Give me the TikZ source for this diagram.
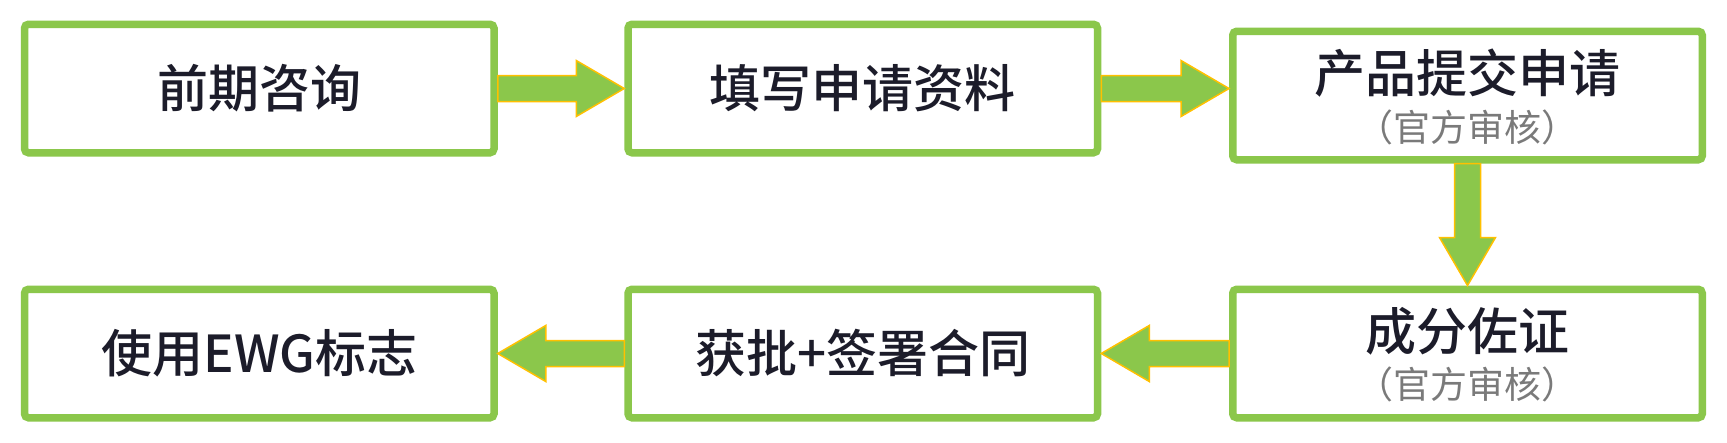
\documentclass[tikz,border=0pt]{standalone}
\usepackage{fontspec}
\newfontfamily\cjk{Noto Sans CJK SC Medium}
\newfontfamily\cjkr{Noto Sans CJK SC}
\usetikzlibrary{calc}
\definecolor{boxgreen}{HTML}{8BC74B}
\definecolor{arrowedge}{HTML}{FFC000}
\definecolor{maintxt}{HTML}{1C1C2A}
\definecolor{subtxt}{HTML}{7A7A7A}
\tikzset{
  stepbox/.style={draw=boxgreen, line width=7.5pt, rounded corners=4pt, fill=white,
    minimum width=469.5pt, minimum height=128.5pt, inner sep=0pt,
    font=\cjk\fontsize{51}{51}\selectfont, text=maintxt},
  maintext/.style={inner sep=0pt, font=\cjk\fontsize{51}{51}\selectfont, text=maintxt},
  subtext/.style={inner sep=0pt, font=\cjkr\fontsize{37}{37}\selectfont, text=subtxt},
  fatarrow/.style={fill=boxgreen, draw=arrowedge, line width=1.5pt, line join=miter}
}
\newcommand{\fatarr}[2]{%
  \coordinate (fa-s) at (#1);
  \coordinate (fa-e) at (#2);
  \coordinate (fa-h) at ($(fa-e)!48pt!(fa-s)$);
  \draw[fatarrow] ($(fa-s)!13pt!90:(fa-e)$) -- ($(fa-h)!13pt!90:(fa-e)$)
    -- ($(fa-h)!28pt!90:(fa-e)$) -- (fa-e) -- ($(fa-h)!28pt!-90:(fa-e)$)
    -- ($(fa-h)!13pt!-90:(fa-e)$) -- ($(fa-s)!13pt!-90:(fa-e)$) -- cycle;}
\begin{document}
\begin{tikzpicture}[x=1pt,y=-1pt]
\useasboundingbox (0,0) rectangle (1727,442);
\fill[white] (0,0) rectangle (1727,442);
\node[stepbox] (b1) at (259.25,88.5) {前期咨询};
\node[stepbox] (b2) at (862.75,88.5) {填写申请资料};
\node[stepbox] (b3) at (1467.5,95.5) {};
\node[maintext] (b3t) at ($(b3.center)+(0,-22)$) {产品提交申请};
\node[subtext] (b3s) at ($(b3.center)+(0,32)$) {（官方审核）};
\node[stepbox] (b4) at (1467.5,353.5) {};
\node[maintext] (b4t) at ($(b4.center)+(0,-22)$) {成分佐证};
\node[subtext] (b4s) at ($(b4.center)+(0,31)$) {（官方审核）};
\node[stepbox] (b5) at (862.75,353.5) {获批+签署合同};
\node[stepbox] (b6) at (259.25,353.5) {使用EWG标志};
\fatarr{b1.east}{b2.west}
\fatarr{b2.east}{b2.east -| b3.west}
\fatarr{b3.south}{b4.north}
\fatarr{b4.west}{b5.east}
\fatarr{b5.west}{b6.east}
\end{tikzpicture}
\end{document}
